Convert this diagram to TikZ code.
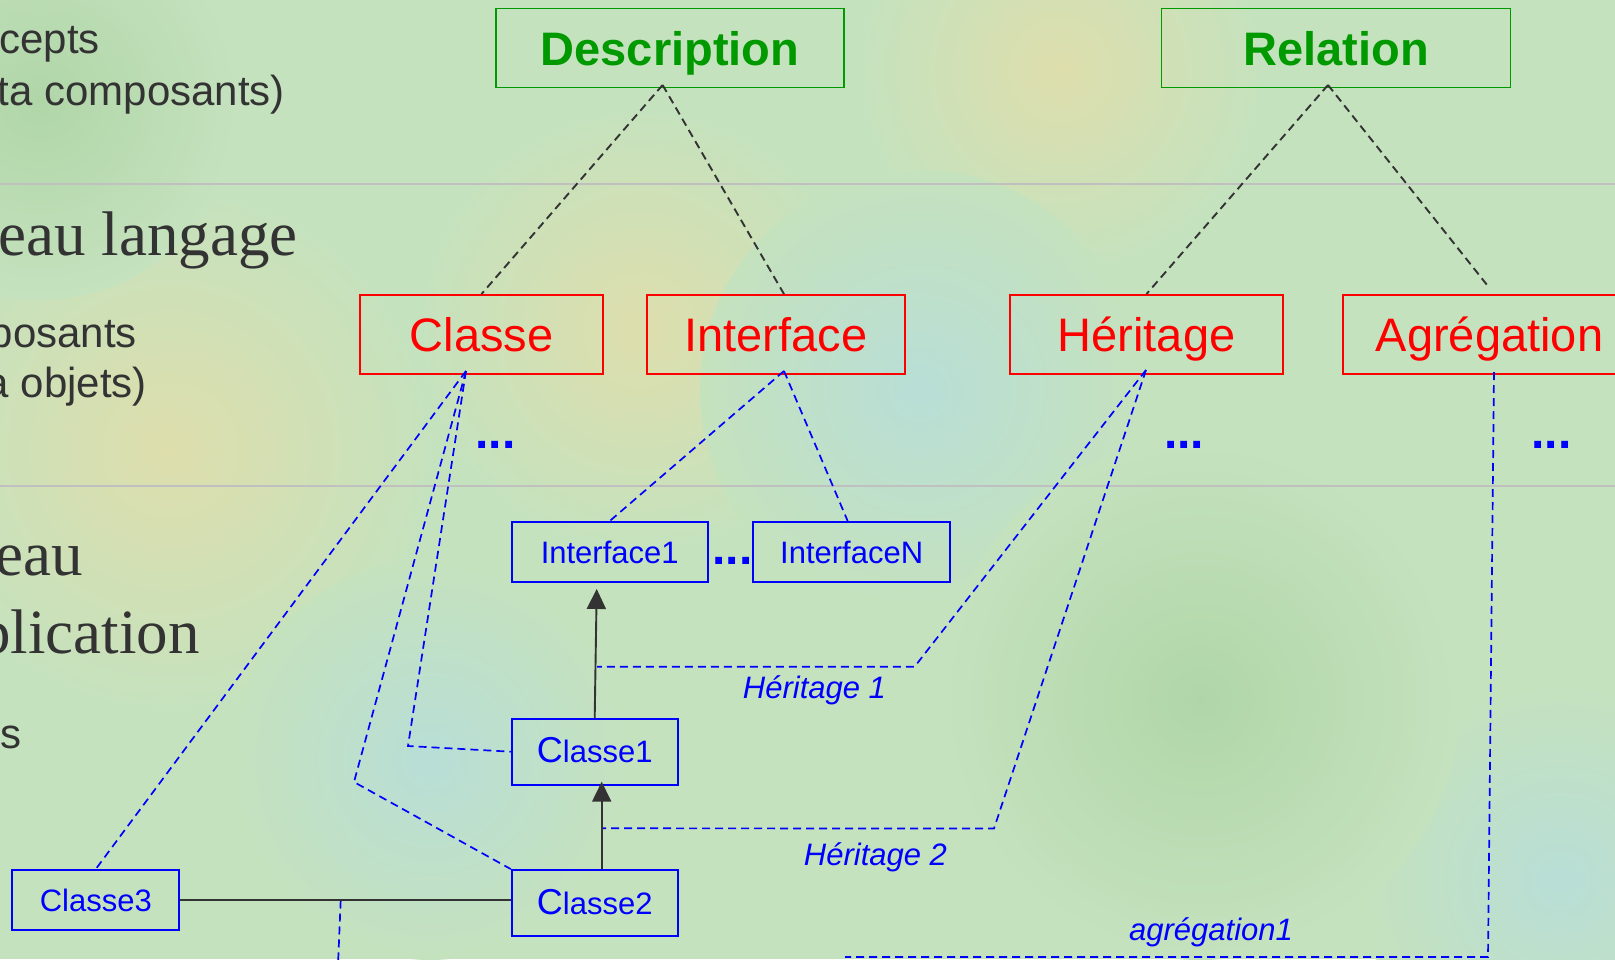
\documentclass[tikz,border=0pt]{standalone}
\usepackage{fontspec}
\setmainfont{Liberation Sans}
\newfontfamily\timesfont{Liberation Serif}
\usetikzlibrary{arrows.meta,calc}
\definecolor{fond}{RGB}{197,226,190}
\definecolor{jaune}{RGB}{222,222,172}
\definecolor{bleuclair}{RGB}{184,222,214}
\definecolor{vertfonce}{RGB}{176,214,168}
\definecolor{vert}{RGB}{0,153,0}
\definecolor{gris}{RGB}{51,51,51}
\definecolor{filet}{RGB}{192,192,192}

\begin{document}
\begin{tikzpicture}[x=1pt,y=-1pt]
       \tikzstyle{metanode}=[draw=vert,line width=1.9pt,text=vert,inner sep=0pt,minimum height=79pt,text height=34pt,text depth=0pt,font=\fontsize{47}{52}\selectfont\bfseries]
       \tikzstyle{langnode}=[draw=red,line width=1.9pt,text=red,inner sep=0pt,minimum height=79pt,text height=34pt,text depth=0pt,font=\fontsize{47}{52}\selectfont]
       \tikzstyle{appnode}=[draw=blue,line width=1.9pt,text=blue,inner sep=0pt,text height=22pt,text depth=0pt,font=\fontsize{31}{36}\selectfont]
       \tikzstyle{lienmeta}=[draw=gris,line width=1.9pt,dash pattern=on 8pt off 5pt]
       \tikzstyle{lienapp}=[draw=blue,line width=1.7pt,dash pattern=on 8pt off 5pt]
       \tikzstyle{herite}=[draw=gris,line width=1.9pt,-{Triangle[length=20pt,width=19pt]}]
       \tikzstyle{etiquette}=[text=blue,anchor=base,font=\fontsize{31}{36}\selectfont\itshape]
       \tikzstyle{suite}=[text=blue,anchor=base,font=\fontsize{48}{52}\selectfont\bfseries]
       \tikzstyle{marge}=[text=gris,anchor=base east,inner sep=0pt,font=\fontsize{42}{48}\selectfont]
       \tikzstyle{margeserif}=[text=gris,anchor=base east,inner sep=0pt,font=\fontsize{63}{70}\timesfont]
       \useasboundingbox (0,0) rectangle (1615,959);
       \clip (0,0) rectangle (1615,959);
       \fill[fond] (0,0) rectangle (1615,959);
       \shade[inner color=jaune,outer color=fond] (170,450) circle (260pt);
       \shade[inner color=jaune,outer color=fond] (1060,70) circle (200pt);
       \shade[inner color=jaune,outer color=fond] (640,330) circle (220pt);
       \shade[inner color=bleuclair,outer color=fond] (920,390) circle (220pt);
       \shade[inner color=bleuclair,outer color=fond] (430,760) circle (200pt);
       \shade[inner color=bleuclair,outer color=fond] (1560,880) circle (200pt);
       \shade[inner color=vertfonce,outer color=fond] (1200,700) circle (260pt);
       \shade[inner color=vertfonce,outer color=fond] (40,100) circle (200pt);
       \draw[filet,line width=2pt] (0,184) -- (1615,184);
       \draw[filet,line width=2pt] (0,486) -- (1615,486);

       \node[marge] (margeA) at (100,53) {cepts};
       \node[marge] (margeB) at (285,105) {ta composants)};
       \node[margeserif] (margeC) at (298,255) {eau langage};
       \node[marge] (margeD) at (137,347) {posants};
       \node[marge] (margeE) at (147,397) {a objets)};
       \node[margeserif] (margeF) at (83,575) {eau};
       \node[margeserif] (margeG) at (200,653) {plication};
       \node[marge] (margeH) at (22,748) {s};

       \node[metanode,minimum width=348pt] (description) at (670,48) {Description};
       \node[metanode,minimum width=349pt] (relation) at (1336,48) {Relation};
       \node[langnode,minimum width=243pt] (classe) at (481.5,334.5) {Classe};
       \node[langnode,minimum width=258pt] (interface) at (776,334.5) {Interface};
       \node[langnode,minimum width=273pt] (heritage) at (1146.5,334.5) {Héritage};
       \node[langnode,minimum width=293pt] (agregation) at (1489.5,334.5) {Agrégation};
       \node[appnode,minimum width=196pt,minimum height=60pt] (interfaceA) at (609.7,552) {Interface1};
       \node[appnode,minimum width=197pt,minimum height=60pt] (interfaceN) at (851.7,552) {InterfaceN};
       \node[appnode,minimum width=166pt,minimum height=66pt] (classeA) at (594.7,751.7) {{\fontsize{36}{40}\selectfont C}lasse1};
       \node[appnode,minimum width=166pt,minimum height=66pt] (classeB) at (594.7,903) {{\fontsize{36}{40}\selectfont C}lasse2};
       \node[appnode,minimum width=167pt,minimum height=60pt] (classeC) at (95.8,900) {Classe3};

       \node[suite] (suiteA) at (495.5,448) {...};
       \node[suite] (suiteB) at (1184,448) {...};
       \node[suite] (suiteC) at (1551.5,448) {...};
       \node[suite] (suiteD) at (732.5,564) {...};
       \node[etiquette] (herA) at (814.5,698) {Héritage 1};
       \node[etiquette] (herB) at (875.5,865) {Héritage 2};
       \node[etiquette] (agregA) at (1211,940) {agrégation1};

       \coordinate (descbas) at (662.6,85);
       \coordinate (relbas) at (1328,85);
       \coordinate (classebas) at (466,371);
       \coordinate (interbas) at (784,371);
       \coordinate (heritbas) at (1146,370);
       \coordinate (agregbas) at (1494,372);
       \coordinate (herAfin) at (597,666.7);
       \coordinate (herBfin) at (601,828.3);
       \coordinate (agregfin) at (845,957);
       \coordinate (assoc) at (340.7,900.5);
       \coordinate (assocfin) at (338,965);

       \draw[lienmeta] (descbas) -- (classe.north);
       \draw[lienmeta] (descbas) -- ($(interface.north)+(8,0)$);
       \draw[lienmeta] (relbas) -- (heritage.north);
       \draw[lienmeta] (relbas) -- ($(agregation.north)+(0,-6)$);

       \draw[lienapp] (classebas) -- (classeC.north);
       \draw[lienapp] (classebas) -- (408,746) -- (classeA.west);
       \draw[lienapp] (classebas) -- (354,782) -- (classeB.north west);
       \draw[lienapp] (interbas) -- (interfaceA.north);
       \draw[lienapp] (interbas) -- ($(interfaceN.north)+(-4,0)$);
       \draw[lienapp] (heritbas) -- (914.6,666.7) -- (herAfin);
       \draw[lienapp] (heritbas) -- (994,828.5) -- (herBfin);
       \draw[lienapp] (agregbas) -- (1488,957) -- (agregfin);
       \draw[lienapp] (assoc) -- (assocfin);

       \draw[gris,line width=1.9pt] (classeC.east) -- (classeC.east -| classeB.west);
       \draw[herite] (classeA.north) -- ($(classeA.north |- interfaceA.south)+(2,6)$);
       \draw[herite] ($(classeB.north)+(7,0)$) -- ($(classeA.south)+(7,-4)$);
\end{tikzpicture}
\end{document}
